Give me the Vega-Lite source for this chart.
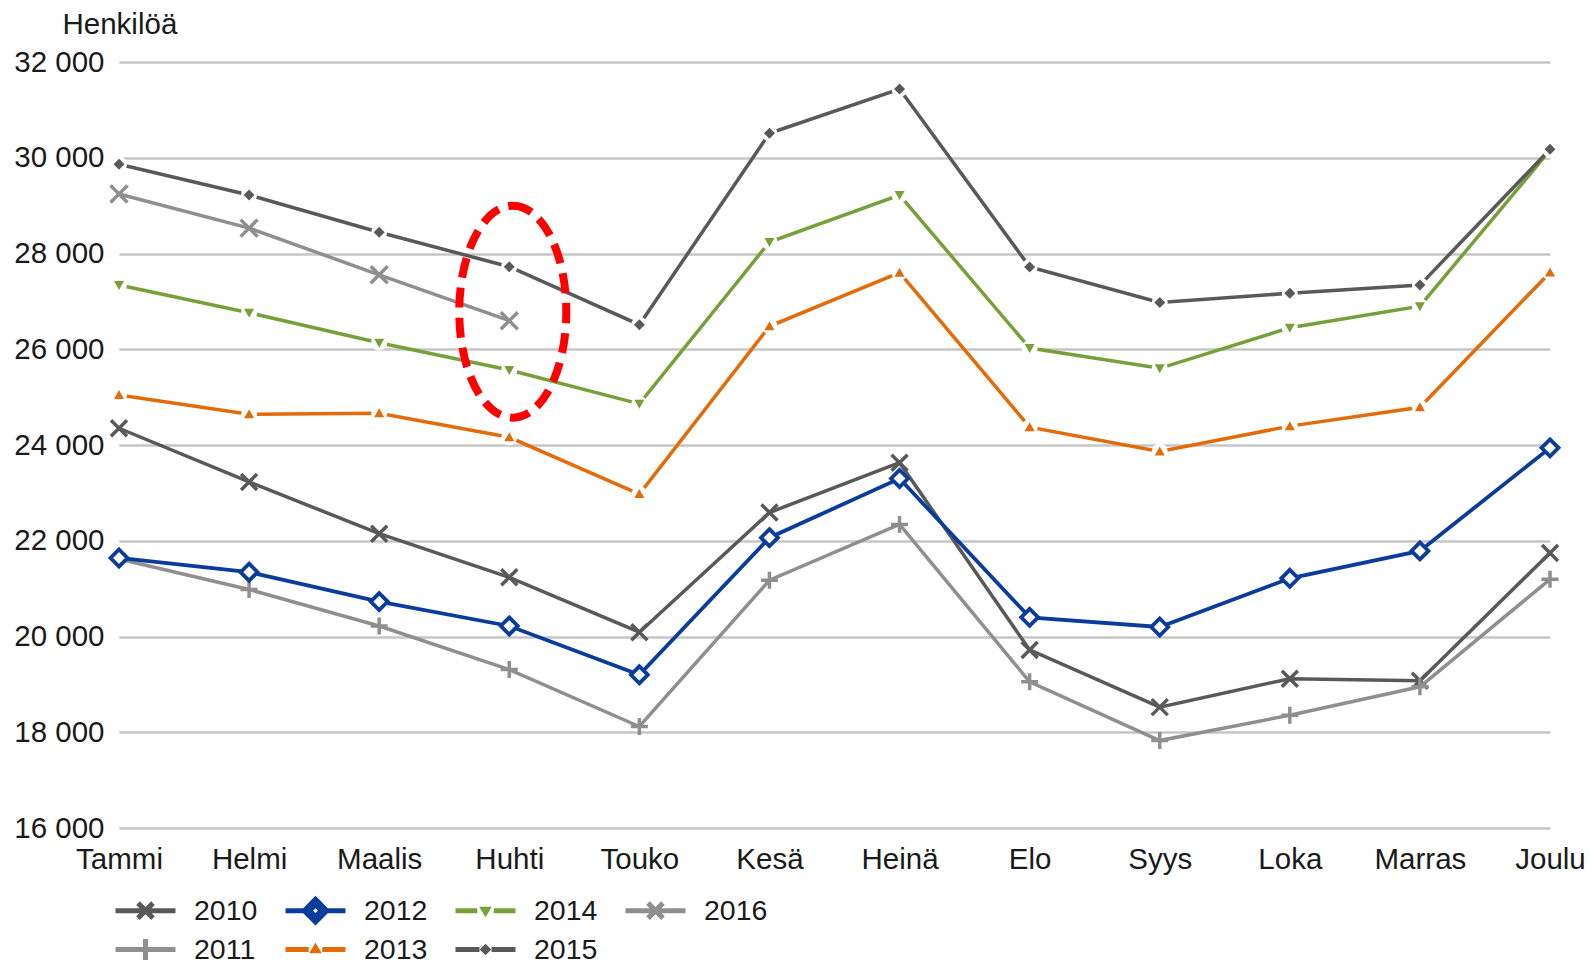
{
  "$schema": "https://vega.github.io/schema/vega-lite/v6.json",
  "width": 1431,
  "height": 766,
  "autosize": {"type": "none"},
  "padding": {"left": 119, "top": 62, "right": 41, "bottom": 135},
  "background": "white",
  "config": {
    "view": {"stroke": null},
    "font": "Liberation Sans",
    "axis": {"labelFont": "Liberation Sans", "titleFont": "Liberation Sans", "labelColor": "#1a1a1a", "titleColor": "#1a1a1a"}
  },
  "datasets": {
    "series": [
      {"year": "2010", "month": "Tammi", "m": 1, "value": 24350},
      {"year": "2010", "month": "Helmi", "m": 2, "value": 23229},
      {"year": "2010", "month": "Maalis", "m": 3, "value": 22148},
      {"year": "2010", "month": "Huhti", "m": 4, "value": 21237},
      {"year": "2010", "month": "Touko", "m": 5, "value": 20090},
      {"year": "2010", "month": "Kesä", "m": 6, "value": 22590},
      {"year": "2010", "month": "Heinä", "m": 7, "value": 23630},
      {"year": "2010", "month": "Elo", "m": 8, "value": 19720},
      {"year": "2010", "month": "Syys", "m": 9, "value": 18525},
      {"year": "2010", "month": "Loka", "m": 10, "value": 19119},
      {"year": "2010", "month": "Marras", "m": 11, "value": 19076},
      {"year": "2010", "month": "Joulu", "m": 12, "value": 21746},
      {"year": "2011", "month": "Tammi", "m": 1, "value": 21619},
      {"year": "2011", "month": "Helmi", "m": 2, "value": 20983},
      {"year": "2011", "month": "Maalis", "m": 3, "value": 20220},
      {"year": "2011", "month": "Huhti", "m": 4, "value": 19309},
      {"year": "2011", "month": "Touko", "m": 5, "value": 18120},
      {"year": "2011", "month": "Kesä", "m": 6, "value": 21177},
      {"year": "2011", "month": "Heinä", "m": 7, "value": 22340},
      {"year": "2011", "month": "Elo", "m": 8, "value": 19055},
      {"year": "2011", "month": "Syys", "m": 9, "value": 17826},
      {"year": "2011", "month": "Loka", "m": 10, "value": 18356},
      {"year": "2011", "month": "Marras", "m": 11, "value": 18949},
      {"year": "2011", "month": "Joulu", "m": 12, "value": 21195},
      {"year": "2012", "month": "Tammi", "m": 1, "value": 21640},
      {"year": "2012", "month": "Helmi", "m": 2, "value": 21343},
      {"year": "2012", "month": "Maalis", "m": 3, "value": 20729},
      {"year": "2012", "month": "Huhti", "m": 4, "value": 20220},
      {"year": "2012", "month": "Touko", "m": 5, "value": 19200},
      {"year": "2012", "month": "Kesä", "m": 6, "value": 22064},
      {"year": "2012", "month": "Heinä", "m": 7, "value": 23300},
      {"year": "2012", "month": "Elo", "m": 8, "value": 20400},
      {"year": "2012", "month": "Syys", "m": 9, "value": 20199},
      {"year": "2012", "month": "Loka", "m": 10, "value": 21216},
      {"year": "2012", "month": "Marras", "m": 11, "value": 21788},
      {"year": "2012", "month": "Joulu", "m": 12, "value": 23940},
      {"year": "2013", "month": "Tammi", "m": 1, "value": 25045},
      {"year": "2013", "month": "Helmi", "m": 2, "value": 24641},
      {"year": "2013", "month": "Maalis", "m": 3, "value": 24662},
      {"year": "2013", "month": "Huhti", "m": 4, "value": 24161},
      {"year": "2013", "month": "Touko", "m": 5, "value": 22975},
      {"year": "2013", "month": "Kesä", "m": 6, "value": 26480},
      {"year": "2013", "month": "Heinä", "m": 7, "value": 27600},
      {"year": "2013", "month": "Elo", "m": 8, "value": 24373},
      {"year": "2013", "month": "Syys", "m": 9, "value": 23864},
      {"year": "2013", "month": "Loka", "m": 10, "value": 24394},
      {"year": "2013", "month": "Marras", "m": 11, "value": 24787},
      {"year": "2013", "month": "Joulu", "m": 12, "value": 27605},
      {"year": "2014", "month": "Tammi", "m": 1, "value": 27342},
      {"year": "2014", "month": "Helmi", "m": 2, "value": 26763},
      {"year": "2014", "month": "Maalis", "m": 3, "value": 26137},
      {"year": "2014", "month": "Huhti", "m": 4, "value": 25567},
      {"year": "2014", "month": "Touko", "m": 5, "value": 24860},
      {"year": "2014", "month": "Kesä", "m": 6, "value": 28240},
      {"year": "2014", "month": "Heinä", "m": 7, "value": 29220},
      {"year": "2014", "month": "Elo", "m": 8, "value": 26025},
      {"year": "2014", "month": "Syys", "m": 9, "value": 25602},
      {"year": "2014", "month": "Loka", "m": 10, "value": 26449},
      {"year": "2014", "month": "Marras", "m": 11, "value": 26900},
      {"year": "2014", "month": "Joulu", "m": 12, "value": 30157},
      {"year": "2015", "month": "Tammi", "m": 1, "value": 29863},
      {"year": "2015", "month": "Helmi", "m": 2, "value": 29222},
      {"year": "2015", "month": "Maalis", "m": 3, "value": 28443},
      {"year": "2015", "month": "Huhti", "m": 4, "value": 27724},
      {"year": "2015", "month": "Touko", "m": 5, "value": 26513},
      {"year": "2015", "month": "Kesä", "m": 6, "value": 30511},
      {"year": "2015", "month": "Heinä", "m": 7, "value": 31435},
      {"year": "2015", "month": "Elo", "m": 8, "value": 27720},
      {"year": "2015", "month": "Syys", "m": 9, "value": 26979},
      {"year": "2015", "month": "Loka", "m": 10, "value": 27170},
      {"year": "2015", "month": "Marras", "m": 11, "value": 27340},
      {"year": "2015", "month": "Joulu", "m": 12, "value": 30176},
      {"year": "2016", "month": "Tammi", "m": 1, "value": 29243},
      {"year": "2016", "month": "Helmi", "m": 2, "value": 28530},
      {"year": "2016", "month": "Maalis", "m": 3, "value": 27555},
      {"year": "2016", "month": "Huhti", "m": 4, "value": 26596}
    ],
    "note": [{"month": "Huhti", "value": 26784}]
  },
  "encoding": {
    "x": {"field": "month", "type": "ordinal", "scale": {"type": "point", "padding": 0, "domain": ["Tammi", "Helmi", "Maalis", "Huhti", "Touko", "Kesä", "Heinä", "Elo", "Syys", "Loka", "Marras", "Joulu"]},
      "axis": {"title": null, "domain": false, "ticks": false, "grid": false, "labelAngle": 0, "labelFontSize": 29.5, "labelPadding": 17}},
    "y": {"field": "value", "type": "quantitative", "scale": {"domain": [16000, 32000], "nice": false, "zero": false},
      "axis": {"title": "Henkilöä", "titleAngle": 0, "titleAlign": "left", "titleBaseline": "alphabetic", "titleX": -57, "titleY": -29, "titleFontSize": 29.5, "titleFontWeight": "normal",
        "values": [16000, 18000, 20000, 22000, 24000, 26000, 28000, 30000, 32000], "labelExpr": "format(datum.value / 1000, 'd') + ' 000'",
        "domain": false, "ticks": false, "grid": true, "gridColor": "#c6c6c6", "gridWidth": 2.5, "labelFontSize": 29.5, "labelPadding": 15}}
  },
  "layer": [
    {
      "data": {"name": "series"},
      "transform": [{"filter": "datum.year == '2010'"}],
      "encoding": {"order": {"field": "m", "type": "quantitative"}},
      "layer": [
        {"mark": {"type": "line", "strokeWidth": 3.5, "stroke": "#595959"}},
        {"mark": {"type": "point", "shape": "M-0.8,-0.8L0.8,0.8M-0.8,0.8L0.8,-0.8", "size": 400, "filled": false, "stroke": "#595959", "strokeWidth": 3.5, "opacity": 1}}
      ]
    },
    {
      "data": {"name": "series"},
      "transform": [{"filter": "datum.year == '2011'"}],
      "encoding": {"order": {"field": "m", "type": "quantitative"}},
      "layer": [
        {"mark": {"type": "line", "strokeWidth": 3.5, "stroke": "#8f8f8f"}},
        {"mark": {"type": "point", "shape": "M-0.85,0H0.85M0,-0.85V0.85", "size": 400, "filled": false, "stroke": "#8f8f8f", "strokeWidth": 3.5, "opacity": 1}}
      ]
    },
    {
      "data": {"name": "series"},
      "transform": [{"filter": "datum.year == '2012'"}],
      "encoding": {"order": {"field": "m", "type": "quantitative"}},
      "layer": [
        {"mark": {"type": "line", "strokeWidth": 3.8, "stroke": "#0a3d9a"}},
        {"mark": {"type": "point", "shape": "M0,-0.85L0.85,0L0,0.85L-0.85,0Z", "size": 400, "filled": true, "fill": "white", "stroke": "#0a3d9a", "strokeWidth": 3.8, "opacity": 1}}
      ]
    },
    {
      "data": {"name": "series"},
      "transform": [{"filter": "datum.year == '2013'"}],
      "encoding": {"order": {"field": "m", "type": "quantitative"}},
      "layer": [
        {"mark": {"type": "line", "strokeWidth": 3.5, "stroke": "#e36c0a"}},
        {"mark": {"type": "point", "shape": "circle", "size": 256, "filled": true, "fill": "white", "strokeWidth": 0, "opacity": 1}},
        {"mark": {"type": "point", "shape": "M0,-0.5L0.5,0.4L-0.5,0.4Z", "size": 400, "filled": true, "fill": "#e36c0a", "strokeWidth": 0, "opacity": 1}}
      ]
    },
    {
      "data": {"name": "series"},
      "transform": [{"filter": "datum.year == '2014'"}],
      "encoding": {"order": {"field": "m", "type": "quantitative"}},
      "layer": [
        {"mark": {"type": "line", "strokeWidth": 3.5, "stroke": "#77a03b"}},
        {"mark": {"type": "point", "shape": "circle", "size": 256, "filled": true, "fill": "white", "strokeWidth": 0, "opacity": 1}},
        {"mark": {"type": "point", "shape": "M0,0.5L0.5,-0.4L-0.5,-0.4Z", "size": 400, "filled": true, "fill": "#77a03b", "strokeWidth": 0, "opacity": 1}}
      ]
    },
    {
      "data": {"name": "series"},
      "transform": [{"filter": "datum.year == '2015'"}],
      "encoding": {"order": {"field": "m", "type": "quantitative"}},
      "layer": [
        {"mark": {"type": "line", "strokeWidth": 3.5, "stroke": "#595959"}},
        {"mark": {"type": "point", "shape": "circle", "size": 256, "filled": true, "fill": "white", "strokeWidth": 0, "opacity": 1}},
        {"mark": {"type": "point", "shape": "M0,-0.55L0.55,0L0,0.55L-0.55,0Z", "size": 400, "filled": true, "fill": "#595959", "strokeWidth": 0, "opacity": 1}}
      ]
    },
    {
      "data": {"name": "series"},
      "transform": [{"filter": "datum.year == '2016'"}],
      "encoding": {"order": {"field": "m", "type": "quantitative"}},
      "layer": [
        {"mark": {"type": "line", "strokeWidth": 3.5, "stroke": "#8f8f8f"}},
        {"mark": {"type": "point", "shape": "M-0.85,-0.85L0.85,0.85M-0.85,0.85L0.85,-0.85", "size": 400, "filled": false, "stroke": "#8f8f8f", "strokeWidth": 3.5, "opacity": 1}}
      ]
    },
    {
      "data": {"name": "series"},
      "mark": {"type": "point", "filled": false, "size": 900, "strokeWidth": 5, "opacity": 0},
      "encoding": {
        "color": {"field": "year", "type": "nominal",
          "scale": {"domain": ["2010", "2012", "2014", "2016", "2011", "2013", "2015"], "range": ["#595959", "#0a3d9a", "#77a03b", "#8f8f8f", "#8f8f8f", "#e36c0a", "#595959"]},
          "legend": {"title": null, "orient": "none", "legendX": 9, "legendY": 831, "columns": 4, "direction": "horizontal", "padding": 0,
            "symbolSize": 900, "symbolStrokeWidth": 5, "symbolOpacity": 1, "labelFontSize": 28.5, "labelFont": "Liberation Sans", "labelColor": "#1a1a1a",
            "labelOffset": 31, "columnPadding": 17, "rowPadding": -8}},
        "shape": {"field": "year", "type": "nominal",
          "scale": {"domain": ["2010", "2012", "2014", "2016", "2011", "2013", "2015"],
            "range": [
              "M0,-0.75M0,0.75M-2,0H2M-0.5,-0.5L0.5,0.5M-0.5,0.5L0.5,-0.5",
              "M0,-0.75M0,0.75M-2,0H-0.75M0.75,0H2M0,-0.75L0.75,0L0,0.75L-0.75,0ZM0,-0.4L0.4,0L0,0.4L-0.4,0Z",
              "M0,-0.75M0,0.75M-2,0H-0.55M0.55,0H2M0,0.12L0.13,-0.1L-0.13,-0.1Z",
              "M0,-0.75M0,0.75M-2,0H2M-0.5,-0.5L0.5,0.5M-0.5,0.5L0.5,-0.5",
              "M0,-0.75M0,0.75M-2,0H2M0,-0.7V0.7",
              "M0,-0.75M0,0.75M-2,0H-0.45M0.45,0H2M0,-0.14L0.13,0.08L-0.13,0.08Z",
              "M0,-0.75M0,0.75M-2,0H-0.4M0.4,0H2M0,-0.15L0.15,0L0,0.15L-0.15,0Z"
            ]},
          "legend": {"title": null, "orient": "none", "legendX": 9, "legendY": 831, "columns": 4, "direction": "horizontal", "padding": 0,
            "symbolSize": 900, "symbolStrokeWidth": 5, "symbolOpacity": 1, "labelFontSize": 28.5, "labelFont": "Liberation Sans", "labelColor": "#1a1a1a",
            "labelOffset": 31, "columnPadding": 17, "rowPadding": -8}}
      }
    },
    {
      "data": {"name": "note"},
      "mark": {"type": "point", "shape": "M0,-1C0.279,-1 0.505,-0.552 0.505,0C0.505,0.552 0.279,1 0,1C-0.279,1 -0.505,0.552 -0.505,0C-0.505,-0.552 -0.279,-1 0,-1Z",
        "size": 44944, "filled": false, "stroke": "#ff0000", "strokeWidth": 8, "strokeDash": [20, 10], "opacity": 1, "xOffset": 3.5}
    }
  ]
}
